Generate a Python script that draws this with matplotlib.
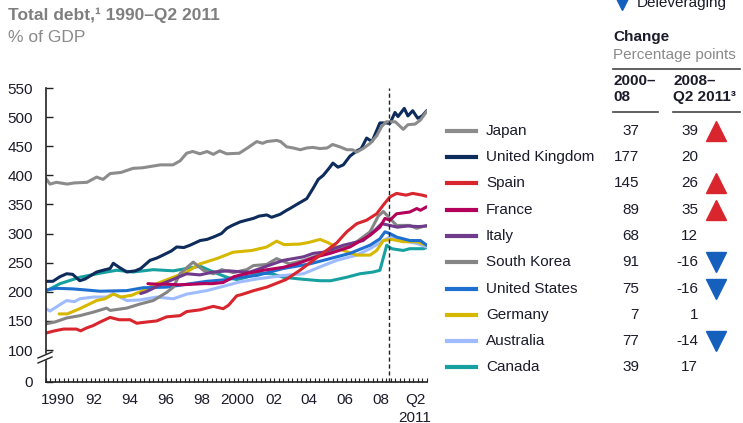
import matplotlib
matplotlib.use("Agg")
import matplotlib.pyplot as plt
from matplotlib.lines import Line2D

plt.rcParams['font.family'] = ['Liberation Sans', 'DejaVu Sans']

# data (year, % of GDP)
japan_x = [1990.0, 1990.24, 1990.6, 1991.2, 1991.6, 1992.3, 1992.84, 1993.2, 1993.59, 1994.2, 1994.87, 1995.4, 1996.0, 1996.4, 1997.1, 1997.5, 1997.86, 1998.2, 1998.6, 1999.0, 1999.35, 1999.7, 2000.1, 2000.8, 2001.3, 2001.77, 2002.1, 2002.33, 2002.88, 2003.1, 2003.44, 2003.8, 2004.2, 2004.56, 2004.9, 2005.3, 2005.7, 2006.0, 2006.4, 2006.8, 2007.1, 2007.35, 2007.7, 2008.1, 2008.46, 2008.74, 2009.0, 2009.5, 2009.94, 2010.2, 2010.6, 2010.9, 2011.25]
japan_y = [395, 385, 388, 385, 387, 388, 397, 393, 403, 405, 412, 413, 416, 418, 418, 425, 438, 441, 437, 441, 436, 442, 437, 438, 448, 458, 455, 458, 460, 458, 449, 447, 444, 447, 448, 446, 447, 453, 449, 444, 444, 440, 446, 455, 468, 484, 492, 492, 479, 487, 488, 495, 510]

uk_x = [1990.0, 1990.4, 1990.8, 1991.17, 1991.5, 1991.9, 1992.2, 1992.84, 1993.2, 1993.59, 1993.77, 1994.1, 1994.52, 1995.0, 1995.3, 1995.82, 1996.2, 1996.54, 1997.0, 1997.31, 1997.7, 1998.05, 1998.61, 1999.0, 1999.35, 1999.8, 2000.1, 2000.4, 2000.84, 2001.2, 2001.58, 2001.9, 2002.33, 2002.6, 2003.07, 2003.44, 2003.62, 2004.0, 2004.56, 2004.92, 2005.2, 2005.48, 2005.8, 2006.02, 2006.3, 2006.6, 2006.97, 2007.35, 2007.6, 2007.9, 2008.2, 2008.64, 2009.0, 2009.2, 2009.48, 2009.65, 2010.0, 2010.2, 2010.47, 2010.75, 2011.0, 2011.25]
uk_y = [218, 218, 226, 231, 230, 219, 222, 234, 237, 240, 249, 242, 234, 236, 240, 254, 258, 263, 270, 277, 276, 280, 288, 290, 294, 300, 309, 314, 320, 323, 326, 330, 332, 328, 333, 340, 343, 350, 360, 378, 393, 400, 412, 421, 414, 418, 433, 442, 446, 464, 458, 490, 490, 489, 508, 501, 515, 502, 511, 498, 502, 511]

spain_x = [1990.0, 1990.5, 1991.0, 1991.7, 1991.95, 1992.29, 1992.65, 1993.03, 1993.59, 1994.1, 1994.7, 1995.08, 1995.6, 1996.19, 1996.75, 1997.49, 1997.86, 1998.61, 1999.35, 1999.9, 2000.2, 2000.65, 2001.0, 2001.6, 2002.33, 2003.07, 2003.4, 2004.18, 2004.92, 2005.67, 2006.23, 2006.79, 2007.35, 2007.9, 2008.46, 2008.83, 2009.2, 2009.57, 2010.1, 2010.47, 2011.0, 2011.25]
spain_y = [129, 133, 136, 136, 133, 138, 142, 148, 156, 152, 152, 146, 148, 150, 157, 159, 166, 169, 175, 171, 177, 193, 196, 202, 208, 217, 221, 237, 254, 271, 284, 303, 317, 323, 334, 349, 363, 369, 366, 369, 366, 364]

france_x = [1995.7, 1996.2, 1996.8, 1997.5, 1998.2, 1998.8, 1999.3, 1999.9, 2000.5, 2001.0, 2002.14, 2003.25, 2004.0, 2005.1, 2005.86, 2006.97, 2008.09, 2008.64, 2008.92, 2009.2, 2009.57, 2010.3, 2010.7, 2010.9, 2011.25]
france_y = [214, 213, 213, 212, 213, 214, 214, 216, 226, 230, 237, 242, 248, 260, 266, 277, 297, 311, 326, 323, 334, 337, 343, 340, 346]

italy_x = [1995.3, 1995.6, 1996.0, 1996.5, 1997.0, 1997.86, 1998.6, 1999.35, 2000.2, 2001.0, 2001.4, 2002.14, 2003.25, 2004.37, 2004.92, 2005.48, 2006.6, 2007.71, 2008.27, 2008.74, 2009.2, 2009.6, 2010.2, 2010.8, 2011.25]
italy_y = [197, 200, 206, 214, 220, 231, 229, 234, 236, 234, 234, 242, 254, 260, 266, 268, 280, 288, 303, 317, 314, 311, 313, 312, 313]

korea_x = [1990.0, 1990.5, 1991.17, 1991.9, 1992.65, 1993.4, 1993.6, 1994.52, 1995.26, 1996.0, 1996.75, 1997.12, 1997.49, 1998.0, 1998.23, 1998.79, 1999.35, 1999.82, 2000.46, 2001.21, 2001.58, 2002.33, 2002.88, 2003.6, 2004.4, 2005.48, 2006.23, 2007.35, 2008.09, 2008.55, 2008.83, 2009.2, 2009.57, 2010.3, 2010.69, 2011.25]
korea_y = [145, 148, 155, 159, 165, 172, 168, 172, 179, 185, 199, 208, 231, 245, 251, 237, 231, 238, 233, 238, 245, 247, 257, 248, 254, 266, 271, 286, 303, 330, 338, 326, 314, 314, 309, 314]

us_x = [1990.0, 1990.6, 1991.5, 1992.29, 1993.03, 1994.52, 1995.44, 1996.75, 1997.86, 1998.98, 2000.1, 2000.84, 2001.77, 2003.25, 2004.74, 2005.86, 2006.97, 2008.09, 2008.64, 2008.92, 2009.2, 2009.57, 2010.32, 2010.9, 2011.25]
us_y = [203, 206, 205, 203, 201, 202, 207, 208, 213, 218, 221, 225, 228, 240, 248, 257, 266, 280, 291, 303, 300, 294, 288, 288, 280]

germany_x = [1990.75, 1991.2, 1991.9, 1992.84, 1993.3, 1993.77, 1994.2, 1994.8, 1995.63, 1996.19, 1997.12, 1997.86, 1998.61, 1999.54, 2000.46, 2001.5, 2002.33, 2002.88, 2003.3, 2004.18, 2004.7, 2005.3, 2005.7, 2006.6, 2007.35, 2008.09, 2008.46, 2008.83, 2009.3, 2009.94, 2010.7, 2011.25]
germany_y = [162, 162, 171, 185, 188, 196, 191, 194, 205, 214, 225, 234, 248, 257, 268, 271, 277, 287, 281, 282, 285, 290, 285, 271, 263, 263, 271, 288, 290, 286, 286, 280]

australia_x = [1990.0, 1990.24, 1990.8, 1991.17, 1991.6, 1991.9, 1992.65, 1993.4, 1993.77, 1994.52, 1995.26, 1996.19, 1997.12, 1997.86, 1998.98, 2000.1, 2000.84, 2001.77, 2003.25, 2004.37, 2005.48, 2006.23, 2007.35, 2008.09, 2008.83, 2009.2, 2009.94, 2010.69, 2011.25]
australia_y = [171, 167, 178, 185, 183, 188, 191, 191, 197, 185, 186, 191, 188, 196, 202, 211, 217, 222, 228, 231, 245, 254, 263, 274, 288, 294, 288, 283, 277]

canada_x = [1990.0, 1990.8, 1991.91, 1993.03, 1993.96, 1994.87, 1996.0, 1997.12, 1997.86, 1998.61, 1999.35, 2000.1, 2000.65, 2001.2, 2001.95, 2002.6, 2003.25, 2004.18, 2005.3, 2005.9, 2006.79, 2007.53, 2008.27, 2008.64, 2009.02, 2009.3, 2009.94, 2010.3, 2011.06, 2011.25]
canada_y = [201, 214, 225, 232, 237, 234, 238, 236, 240, 244, 234, 225, 221, 225, 232, 231, 225, 222, 219, 219, 225, 231, 234, 237, 280, 274, 271, 274, 274, 276]

countries = ["Japan", "United Kingdom", "Spain", "France", "Italy", "South Korea",
             "United States", "Germany", "Australia", "Canada"]
colors = ["#8c8c8c", "#0d2c5c", "#d9262e", "#b3005a", "#6f3b8c", "#858585",
          "#1f6fd1", "#d6b800", "#9ebcff", "#17a0a0"]
change_2000_08 = ["37", "177", "145", "89", "68", "91", "75", "7", "77", "39"]
change_2008_11 = ["39", "20", "26", "35", "12", "-16", "-16", "1", "-14", "17"]
arrows = ["up", "", "up", "up", "", "down", "down", "", "down", ""]

series = [(japan_x, japan_y), (uk_x, uk_y), (spain_x, spain_y), (france_x, france_y),
          (italy_x, italy_y), (korea_x, korea_y), (us_x, us_y), (germany_x, germany_y),
          (australia_x, australia_y), (canada_x, canada_y)]

year_labels = ["1990", "92", "94", "96", "98", "2000", "02", "04", "06", "08", "Q2\n2011"]
label_pos = [1990.7, 1992.7, 1994.7, 1996.7, 1998.7, 2000.7, 2002.7, 2004.7, 2006.7, 2008.7, 2010.6]

W, H = 743, 423
txt = "#1b1b2b"
grey = "#8a8a8a"
fs = 11

fig = plt.figure(figsize=(W / 100, H / 100), dpi=100)
ax = fig.add_axes([45.7 / W, 1 - 381.7 / H, (426.7 - 45.7) / W, (381.7 - 88) / H])

# draw back to front so UK sits over Japan etc.
for (xs, ys), c in reversed(list(zip(series, colors))):
    ax.plot(xs, ys, color=c, lw=2.2, solid_capstyle='round', solid_joinstyle='round')

y0 = 45.6
ax.set_ylim(y0, 550)
ax.set_xlim(1990, 2011.25)
ax.axvline(2009.13, color="#222222", lw=1, ls=(0, (3, 2)))

for s in ["top", "right"]:
    ax.spines[s].set_visible(False)
for s in ["left", "bottom"]:
    ax.spines[s].set_color("#222222")
    ax.spines[s].set_linewidth(1.2)

ax.set_yticks([y0] + list(range(100, 551, 50)))
ax.set_yticklabels(["0"] + [str(v) for v in range(100, 551, 50)])
ax.tick_params(axis="y", direction="in", length=5, width=1, pad=9,
               labelsize=fs, labelcolor=txt, color="#222222")

ax.set_xticks(label_pos)
ax.set_xticklabels(year_labels, linespacing=1.4, va="top")
ax.set_xticks([1990 + 0.25 * i for i in range(86)], minor=True)
ax.tick_params(axis="x", which="major", length=0, pad=8, labelsize=fs, labelcolor=txt)
ax.tick_params(axis="x", which="minor", direction="in", length=3, width=0.8, color="#222222")

# axis break on the y axis
def px(x, y):
    return x / W, 1 - y / H

fig.add_artist(plt.Rectangle(px(43, 359), 5 / W, 5 / H, transform=fig.transFigure,
                             color="white", zorder=5))
for dy in (0, 5):
    x1, y1 = px(38, 358 + dy)
    x2, y2 = px(52, 352 + dy)
    fig.add_artist(Line2D([x1, x2], [y1, y2], transform=fig.transFigure,
                          color="#222222", lw=1, zorder=6))

# titles
fig.text(*px(8, 15), "Total debt,\u00b9 1990\u2013Q2 2011", fontsize=12.5, fontweight="bold",
         color="#7f7f7f", va="center")
fig.text(*px(8, 37), "% of GDP", fontsize=12.5, color=grey, va="center")

# deleveraging key
fig.add_artist(Line2D([px(622, 2)[0]], [px(622, 2)[1]], marker="v", markersize=11,
                      color="#1560bd", transform=fig.transFigure, lw=0))
fig.text(*px(637, 7), "Deleveraging", fontsize=fs, color=txt, va="baseline")

# table header
fig.text(*px(613, 37), "Change", fontsize=fs, fontweight="bold", color=txt, va="center")
fig.text(*px(613, 55), "Percentage points", fontsize=fs, color=grey, va="center")
fig.add_artist(Line2D([px(613, 69)[0], px(740, 69)[0]], [px(613, 69)[1]] * 2,
                      transform=fig.transFigure, color="#444444", lw=1.2))
fig.text(*px(613, 89), "2000\u2013\n08", fontsize=fs, fontweight="bold", color=txt,
         va="center", linespacing=1.2)
fig.text(*px(673, 89), "2008\u2013\nQ2 2011\u00b3", fontsize=fs, fontweight="bold",
         color=txt, va="center", linespacing=1.2)
for a, b in [(613, 658), (673, 740)]:
    fig.add_artist(Line2D([px(a, 112)[0], px(b, 112)[0]], [px(a, 112)[1]] * 2,
                          transform=fig.transFigure, color="#444444", lw=1.2))

# legend rows
for i, name in enumerate(countries):
    y = 130.7 + i * 26.3
    fig.add_artist(Line2D([px(447, y)[0], px(476, y)[0]], [px(447, y)[1]] * 2,
                          transform=fig.transFigure, color=colors[i], lw=3))
    fig.text(*px(486, y), name, fontsize=fs, color=txt, va="center")
    fig.text(*px(639, y), change_2000_08[i], fontsize=fs, color=txt, va="center", ha="right")
    fig.text(*px(698, y), change_2008_11[i], fontsize=fs, color=txt, va="center", ha="right")
    if arrows[i]:
        mk = "^" if arrows[i] == "up" else "v"
        mc = "#d9262e" if arrows[i] == "up" else "#1560bd"
        fx, fy = px(716, y)
        fig.add_artist(Line2D([fx], [fy], marker=mk, markersize=14, color=mc,
                              transform=fig.transFigure, lw=0))

fig.savefig("out.png", dpi=100)
